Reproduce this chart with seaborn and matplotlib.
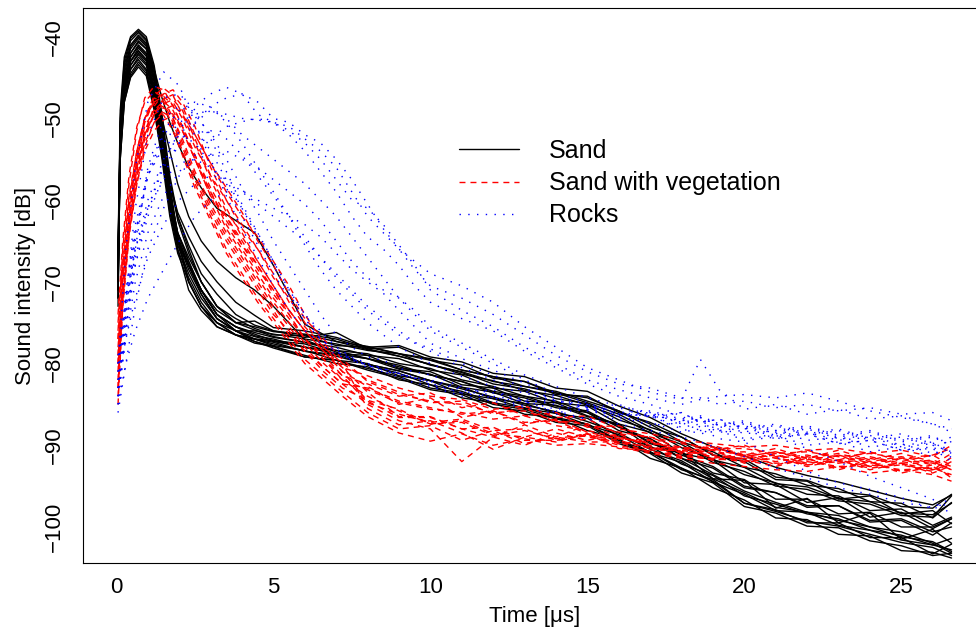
import matplotlib
matplotlib.use("Agg")
import matplotlib.pyplot as plt
from matplotlib.lines import Line2D
import pandas as pd
import seaborn as sns

# ---------------- data ----------------
CLASSES = ["Sand", "Sand with vegetation", "Rocks"]
COLORS = ["black", "red", "blue"]

# Sand: knot times and per-curve values
SAND_T_HEAD = [0.05, 0.12, 0.25, 0.45, 0.7, 0.95, 1.2, 1.45, 1.7, 1.95, 2.3, 2.7, 3.2, 3.8]
SAND_T_TAIL = [4.4, 5, 6, 7, 8, 9, 10, 11, 12, 13, 14, 15, 16, 17, 18, 19, 20, 21, 22, 23, 24, 25, 26, 26.6]
SAND_HEAD = [
    [-66, -49, -42.5, -40, -39.1, -40, -43.5, -49.5, -57, -62, -66, -70, -73, -74.5],
    [-70, -50, -43, -40.2, -39.3, -40.3, -44, -50.5, -58, -64.5, -70, -73, -75, -76],
    [-68, -50.5, -43.5, -40.5, -39.5, -40.5, -44, -50, -57.5, -62.5, -66.5, -70, -73, -75],
    [-72, -51, -44, -41, -39.8, -40.8, -44.5, -51, -58.5, -65, -70, -73, -75, -76.5],
    [-67, -51, -44, -41.2, -40, -41, -45, -51.5, -59, -64, -67.5, -71, -74, -75.5],
    [-69, -51.5, -44.5, -41.5, -40.2, -41.2, -45, -51, -58, -62, -65.5, -69, -71.5, -74],
    [-71, -52, -45, -42, -40.5, -41.5, -45.5, -52, -59.5, -66, -71, -73.5, -75.5, -76.5],
    [-66, -52, -45, -42, -40.7, -41.5, -44, -47.5, -50.5, -53, -56, -58.5, -61, -62.5],
    [-70, -52.5, -45.5, -42.5, -41, -42, -45.5, -50, -54, -58, -62, -65, -67.5, -69.5],
    [-68, -52.5, -45.5, -42.5, -41.2, -42.2, -46, -52, -59, -64, -67.5, -71, -74, -76],
    [-73, -53, -46, -43, -41.4, -42.4, -46.5, -52.5, -60, -64.5, -68, -71.5, -74.5, -76],
    [-67, -53, -46, -43, -41.7, -42.8, -46.5, -52, -58, -61.5, -64.5, -67.5, -70, -72.5],
    [-70, -53.5, -46.5, -43.5, -42, -43, -47, -53, -60.5, -65, -68.5, -71.5, -74.5, -76],
    [-69, -53.5, -46.5, -43.5, -42.2, -43.3, -47, -53, -60, -64, -67, -70, -73, -75],
    [-72, -54, -47, -44, -42.5, -43.5, -47.5, -53.5, -61, -65.5, -69, -72, -74.5, -76],
    [-68, -54, -47, -44, -42.8, -44, -48, -54, -61, -65, -68, -71, -74, -75.5],
    [-71, -54.5, -47.5, -44.5, -43.1, -44.2, -48, -54, -61.5, -66, -69.5, -72.5, -75, -76.5],
    [-67, -55, -48, -44.8, -43.4, -44.5, -48.5, -54.5, -61, -65, -68, -71, -73.5, -75],
    [-70, -55, -48, -45, -43.7, -44.8, -49, -55, -62, -66.5, -70, -73, -75.5, -76.5],
    [-69, -53, -46, -43, -41.8, -42.8, -46.5, -52.5, -60, -64.5, -68, -71, -74, -75.5],
]
SAND_TAIL = [
    [-75.7, -76.5, -76.6, -77.8, -78, -78.8, -79.4, -80.8, -81.6, -82.2, -83.6, -84.2, -85.8, -87.4, -89.6, -90.8, -92.7, -93.5, -94.9, -95.3, -96.9, -97.1, -98.9, -97],
    [-77, -77.8, -78.4, -79.6, -80, -81.5, -82.1, -83.7, -84.3, -85.5, -86.1, -87.5, -88.7, -90.9, -92.1, -94.5, -96, -98, -98.2, -99.8, -100.4, -101.6, -102.2, -102.8],
    [-75.5, -76.1, -76.4, -77, -78.2, -78, -79.6, -80.2, -81.8, -82.2, -83.8, -84, -86, -87.2, -89, -91.2, -91.7, -93.9, -94.3, -95.7, -96.1, -97.5, -97.7, -96],
    [-77.3, -78.1, -79.2, -79.6, -80.8, -81.8, -83.2, -83.8, -85.4, -85.8, -87.2, -87.6, -89.8, -91, -93.4, -94.6, -97.5, -98.3, -99.9, -100.1, -101.7, -102.3, -103.5, -103.2],
    [-76.4, -77.2, -77.6, -78.8, -79, -80.6, -81, -82.6, -83, -84.6, -84.8, -86.4, -87.4, -89.8, -90.8, -93.4, -94.2, -96.6, -96.6, -98.4, -98.2, -100, -100, -99],
    [-75.3, -76, -76.8, -76.2, -78.2, -79.1, -80.1, -81.1, -82.5, -83.1, -84.3, -84.9, -86.9, -88.1, -90.3, -91.7, -93.6, -94.6, -96, -96.2, -98, -97.8, -99.8, -98.8],
    [-77, -77.4, -78.5, -78.9, -80.1, -80.9, -82.1, -82.9, -84.3, -84.9, -86.1, -86.7, -88.9, -90.1, -92.3, -93.7, -96.2, -97.2, -98.4, -99, -100.4, -101, -102.2, -101.4],
    [-64, -68, -75.2, -77.3, -78.3, -79.1, -80.1, -81.3, -82.1, -83.3, -83.9, -85.1, -86.5, -88.5, -89.9, -92.1, -93.2, -95, -95.4, -96.8, -97.2, -98.6, -98.8, -96.2],
    [-71, -73, -77.1, -78.6, -80.2, -81.2, -82.6, -83.4, -84.8, -85.4, -86.6, -87.4, -89.4, -90.8, -92.8, -94.4, -97.1, -98.1, -99.3, -99.9, -100.9, -101.9, -102.5, -103.5],
    [-76, -76.4, -77, -77.6, -78.4, -78.8, -80.2, -81, -82.2, -82.8, -83.6, -84.8, -86.2, -88.2, -89.6, -91.8, -92.7, -94.7, -95.1, -96.5, -96.9, -98.3, -98.5, -97.1],
    [-77.3, -77.9, -79, -80, -80.4, -82, -82.6, -84.2, -84.8, -86.2, -86.6, -88.2, -89.2, -91.6, -92.8, -95.2, -96.7, -98.9, -99.1, -100.9, -101.1, -102.9, -103.1, -103.8],
    [-74.1, -75.6, -76, -76.8, -78, -77.8, -79.2, -79.8, -81.2, -81.6, -83, -83.4, -85.2, -86.6, -88.6, -90.2, -91.3, -92.7, -93.7, -94.5, -95.5, -96.5, -97.3, -96.1],
    [-76.7, -77.3, -78, -78.8, -79.4, -80.7, -81.3, -82.9, -83.5, -84.9, -85.1, -86.5, -87.5, -90.3, -90.9, -94.1, -94.3, -97.7, -96.5, -99.5, -98.3, -101.5, -100.3, -102],
    [-75.9, -76.7, -77.4, -78, -79, -79.4, -80.8, -81.4, -83, -83.4, -84.8, -85.2, -87.4, -88.4, -91, -91.8, -94.6, -94.8, -97, -96.4, -98.8, -98.2, -100.2, -99],
    [-77, -77.6, -78.5, -79.1, -80.1, -80.9, -82.1, -83.1, -84.1, -85.1, -85.9, -87.1, -88.5, -90.5, -91.9, -94.1, -95.8, -97.6, -98.2, -99.2, -100, -101.2, -101.8, -103],
    [-76.2, -76.8, -77.4, -78.4, -78.8, -80, -80.6, -82, -82.8, -84, -84.6, -86, -87.6, -89.6, -91.6, -93.6, -95.6, -97, -98.2, -98.6, -100, -100.6, -102, -103.2],
    [-77, -77.2, -78, -78.8, -79.4, -80.4, -81.4, -82.2, -83.6, -84.2, -85.4, -86, -88.2, -89.2, -91.6, -92.8, -95.2, -95.8, -97.6, -97.4, -99.4, -99.2, -101, -99.5],
    [-74.8, -76, -76.5, -77.3, -77.9, -78.8, -79.6, -80.8, -81.6, -82.8, -83.4, -84.6, -85.8, -87.8, -89, -91.2, -92, -94.2, -94.4, -96.6, -96.2, -98.4, -98, -99.6],
    [-77.5, -77.9, -79.2, -79.6, -80.6, -81.6, -83, -83.6, -85, -85.6, -86.8, -87.4, -89.6, -90.8, -93, -94.2, -97.1, -97.9, -99.5, -99.5, -101.3, -101.3, -103.3, -102.1],
    [-76.6, -77, -78, -78.4, -79.4, -80.2, -81.4, -82.2, -83.4, -84, -85.2, -85.8, -87.8, -89.2, -91.2, -92.6, -95, -95.8, -97.4, -97.4, -99.2, -99, -100.6, -100],
]

# Sand with vegetation
VEG_T_HEAD = [0.05, 0.2, 0.4, 0.65, 0.9, 1.2, 1.5, 1.8, 2.1, 2.5, 3.0, 3.5, 4.0, 4.5, 5.0, 5.5, 6.0, 6.6, 7.2]
VEG_T_TAIL = [8, 9, 10, 11, 12, 13, 14, 15, 16, 17, 18, 19, 20, 21, 22, 23, 24, 25, 26, 26.6]
VEG_HEAD = [
    [-76, -66, -58, -51.5, -47.5, -46.1, -46.5, -48.5, -51, -55, -59.5, -62, -65.5, -68, -71.5, -74, -77, -79, -81.5],
    [-80, -69, -61, -54, -50, -47.2, -46.3, -47.2, -49.5, -53, -57.5, -61.5, -64, -67.5, -70.5, -73.5, -76, -78.5, -80.5],
    [-83, -72, -63, -56, -52, -48.5, -47, -46.5, -48, -51, -56, -60, -63, -66, -69, -72.5, -75.5, -78, -80],
    [-74, -65, -57, -51, -48, -46.7, -47.5, -50, -53, -57, -61, -64.5, -67.5, -70.5, -73.5, -76.5, -78.5, -80.5, -82.5],
    [-79, -70, -62, -55, -50.5, -47.8, -46.9, -48, -50, -53.5, -57, -60, -63.5, -66, -69.5, -72, -75, -78, -80.5],
    [-85, -73, -64, -57, -52.5, -49.5, -47.6, -47.1, -48.5, -52, -55.5, -59, -62, -64.5, -67.5, -70.5, -74, -77.5, -80],
    [-77, -68, -60, -54, -50, -48, -47.3, -48.4, -51, -54.5, -59, -63, -66, -69, -72, -74.5, -77, -79.5, -82],
    [-81, -69, -61, -54.5, -50, -47.5, -48, -50.5, -53.5, -57.5, -61.5, -65, -68, -71, -74, -76, -78.5, -81, -83],
    [-78, -70, -63, -56.5, -52, -49.5, -48.2, -47.7, -49, -52.5, -57, -61, -64.5, -67.5, -70.5, -73.5, -76, -78.5, -81],
    [-83, -71, -62, -55.5, -51.5, -49, -47.9, -49, -51.5, -55, -59.5, -63.5, -66.5, -69.5, -72.5, -75, -77.5, -80, -82],
    [-75, -67, -59.5, -54, -50, -48.1, -48.6, -50.8, -54, -58, -62, -66, -69, -72, -74.5, -77, -79.5, -81.5, -83.5],
    [-84, -73, -64.5, -58, -53.5, -50.5, -49, -48.4, -49.5, -52, -55.5, -58.5, -61.5, -65, -68, -71.5, -74.5, -77, -79.5],
    [-80, -70, -62.5, -56, -52, -49.5, -48.7, -49.5, -51.5, -55, -59, -62.5, -65.5, -68.5, -71, -73.5, -76, -78.5, -81],
    [-77, -68, -61, -55, -51, -49, -49.6, -51.5, -54.5, -58.5, -62.5, -66.5, -69.5, -72.5, -75, -77.5, -80, -82, -84],
    [-82, -72, -64, -57.5, -53, -50.5, -49.3, -50, -52.5, -56.5, -60.5, -64, -67, -70, -73, -75.5, -78, -80.5, -82.5],
    [-79, -71, -64, -58, -54, -51.5, -50.2, -49.7, -51, -54.5, -58.5, -62, -65, -68, -71, -74, -77, -79.5, -81.5],
]
VEG_TAIL = [
    [-82.5, -84, -83.6, -85.4, -84.8, -86.4, -86, -87.8, -87.6, -89.4, -89.6, -90.6, -90, -91.4, -90.6, -91.8, -90.8, -92, -91.2, -92.5],
    [-83.5, -86.5, -86.5, -88, -89, -87.5, -89, -87.5, -89, -90, -91.5, -90.5, -92, -91, -92.4, -91.2, -92.6, -91.6, -93, -91.5],
    [-82, -83.5, -84.8, -84.6, -86.2, -85.4, -87.2, -86.8, -88.6, -89, -90.4, -90, -91.2, -90.4, -91.6, -90.6, -91.8, -91, -92, -93],
    [-85, -87, -88, -92, -89, -90, -88.5, -89.4, -88.6, -90.4, -90.2, -91.6, -91, -92.4, -91.6, -92.8, -92, -93.2, -92.4, -94],
    [-81.5, -83, -84, -84.4, -85.6, -85.2, -86.6, -86.4, -88, -88.6, -89.4, -89.8, -90.2, -90, -90.6, -90.4, -91, -90.6, -91.4, -90],
    [-85.5, -87.5, -87, -88.5, -90.5, -89, -89.6, -88.6, -89.8, -89.4, -91, -90.6, -92.2, -91.4, -92.6, -91.8, -93, -92.2, -93.4, -92.5],
    [-83.2, -84.8, -85.6, -86, -86.8, -86.4, -87.6, -88.2, -89, -89.8, -90.2, -91, -90.8, -91.6, -91.2, -92, -91.4, -92.2, -91.8, -92.6],
    [-84.5, -85.6, -87.4, -87, -88.6, -89, -88, -89, -89.6, -90.8, -91.2, -91.8, -91.6, -92.2, -92, -92.6, -92.4, -93, -92.8, -93.6],
    [-82.8, -85, -84.2, -86.6, -85.8, -87.4, -86.8, -88.4, -89.2, -89.4, -90.8, -90.2, -91.4, -90.8, -91.8, -91.2, -92.2, -91.6, -92.4, -91],
    [-84, -85.8, -87.4, -87.2, -88.8, -88.2, -89.2, -88.6, -90.4, -90.6, -90.6, -91.4, -91.6, -91.2, -92.2, -91.8, -92.6, -92.2, -93, -92.4],
    [-86, -88, -87.6, -89.4, -88.2, -89.8, -89, -89.6, -89.6, -90.2, -90.8, -91.2, -91.8, -92.6, -91.6, -93, -92, -93.4, -92.6, -93.8],
    [-82.2, -83.8, -84.6, -85, -86, -85.8, -87, -87.4, -88.4, -89, -89.8, -90.4, -90.4, -91, -90.8, -91.4, -91, -91.6, -91.2, -90.4],
    [-84.6, -86.6, -86.6, -88, -87.8, -89.4, -89.4, -88.8, -89.4, -90.4, -90.8, -91.8, -91.2, -92, -91.4, -92.2, -91.6, -92.4, -92, -93],
    [-86.5, -88.5, -89.5, -88.6, -90, -89.2, -90, -89.8, -90.2, -91, -91.6, -92.2, -92.6, -93, -93.2, -92.6, -93.4, -93, -93.6, -94.4],
    [-83, -84.6, -85.4, -86.2, -85.8, -87.2, -87, -88.6, -89.2, -89.6, -90.6, -90.4, -91.4, -90.8, -91.6, -91, -92, -91.4, -92.2, -92.8],
    [-84.8, -86.2, -87.2, -86.8, -88.2, -88, -89.4, -88.8, -90, -90.8, -91.4, -91.6, -92, -91.6, -92.4, -92, -92.8, -92.4, -93.2, -92],
]

# Rocks
ROCK_T = [0.05, 0.3, 0.6, 1.0, 1.5, 2.0, 2.5, 3.0, 3.5, 4.0, 4.5, 5.0, 5.5, 6.0, 6.5, 7.0, 7.5, 8.0, 8.5, 9.0,
          9.5, 10, 11, 12, 13, 14, 15, 16, 17, 18, 18.6, 19.2, 20, 21, 22, 23, 24, 25, 26, 26.6]
ROCK_DB = [
    [-80, -66, -56, -48, -44.3, -46, -50.5, -55, -59.5, -63.5, -67, -70.5, -73.5, -76, -77.5, -79, -79.5, -80.5, -81, -81.2, -81.8, -82, -83, -83.6, -84.4, -85, -85.8, -86.2, -86.4, -87, -86.6, -87.6, -87.2, -88.4, -87.8, -89, -88.4, -89.6, -89, -90],
    [-83, -72, -61, -52, -47.5, -47, -49, -52.5, -56.5, -60.5, -64, -67.5, -71, -74, -76, -78, -79.2, -80, -80.6, -81.4, -81.6, -82.4, -83.6, -83.2, -84.8, -84.4, -85.6, -85.4, -86.6, -86, -87.2, -86.8, -88, -87.4, -88.6, -88, -89.2, -88.6, -89.8, -89],
    [-85, -76, -66, -56, -50, -48.5, -49.5, -52, -55, -58.5, -61.5, -65, -68, -71, -74, -76.5, -78, -79.2, -79.6, -80.6, -81, -81.4, -82.8, -84, -84.6, -86, -85.6, -87, -86.4, -87.8, -87.4, -88.4, -88.2, -89.2, -88.6, -89.8, -89.4, -90.6, -90.2, -91.5],
    [-82, -74, -65, -57, -52, -50, -51, -54, -57.5, -61, -64.5, -68, -71.5, -74.5, -77, -78.5, -79.6, -80.2, -81, -81.6, -82.4, -82.8, -84, -84.6, -85.4, -86.2, -86.8, -87.4, -88.2, -89, -89.6, -90.4, -91.4, -92.8, -94, -95.2, -96, -97, -97.6, -96.5],
    [-84, -74, -67, -61, -55.5, -51.5, -48.5, -47, -46.2, -47, -49.5, -50.5, -51, -52.5, -54, -56, -59, -62, -64, -66, -68.5, -70.5, -72, -74, -76.5, -79, -81, -82.5, -83, -84.2, -84.2, -85, -84.6, -85.4, -85, -85.8, -85.4, -86.2, -86, -87],
    [-80, -73, -66, -60, -55, -52, -50, -48.5, -47.5, -47, -48, -50, -50.5, -52, -53, -55, -57.5, -60.5, -63.5, -66, -67.5, -69, -70.5, -72.5, -75.5, -78, -80.5, -82, -83.5, -84.4, -79.5, -83.2, -85.6, -85, -86.2, -85.6, -86.8, -86.4, -87.4, -88],
    [-83, -75, -68, -62, -57, -53, -50.5, -49, -49.5, -50, -50.2, -50.5, -52, -54, -56.5, -59, -62, -64.5, -66, -68, -70.5, -72.5, -74.5, -76, -78.5, -80.5, -82.5, -84, -85, -86.4, -87.8, -87.4, -88.6, -88.2, -89.4, -89, -90.2, -89.8, -91, -90.4],
    [-86, -80, -73, -66, -61, -57, -54.5, -52.5, -51, -50.4, -50, -50.5, -51.5, -53, -55, -57.5, -60, -61, -63, -65.5, -68, -71, -73.5, -75.5, -78, -80, -82, -83.2, -84.2, -85, -84.4, -84, -83.8, -84.2, -83.6, -84.6, -85.8, -86.6, -87.4, -88.4],
    [-81, -72, -64, -57, -53, -50.5, -49.5, -49, -50, -52, -53.5, -55, -56.5, -58, -60, -62, -64.5, -67, -69.5, -72, -74, -76, -78, -80, -82, -83.6, -84.8, -86.2, -86.4, -88, -88.6, -88.2, -89.4, -89, -90.4, -92, -93.8, -95.2, -96.6, -98.5],
    [-84, -77, -70, -64, -59.5, -56.5, -55, -54.4, -54, -55, -56, -57.5, -59, -60.5, -62.5, -65, -67.5, -69.5, -71, -72, -73.5, -75.5, -77.5, -79.5, -81.4, -82.8, -84.2, -85.2, -86, -87, -86.6, -87.6, -87.4, -88.6, -88, -89.2, -88.8, -90, -89.6, -91],
    [-85, -80, -76, -72, -68.5, -65, -62, -60, -59, -58.8, -60, -61, -62, -63, -64.5, -66.5, -68.5, -70, -71.4, -73.5, -75.5, -77.5, -79.4, -80.8, -82.4, -84, -85, -86.2, -86, -87.4, -87, -88.2, -87.8, -89, -88.6, -89.8, -89.4, -90.6, -90.4, -92],
    [-82, -77, -72, -67, -63, -60, -58, -57, -57.4, -59, -60.5, -62, -63.5, -65, -67, -69, -71, -73, -74.5, -76, -77.4, -78.2, -80, -81.4, -83, -84.6, -85.4, -86.6, -87.2, -88.4, -88, -89.2, -89.6, -91.4, -93.2, -94.6, -95.4, -96.4, -97.8, -97],
    [-83, -73, -64, -57, -53.5, -52, -53, -55.5, -58.5, -62, -65.5, -69, -72, -75, -77, -78.6, -79.4, -80.2, -80.8, -81.2, -81.8, -82.2, -83.2, -84.2, -84.6, -85.6, -85.2, -86.4, -86.2, -87.2, -86.8, -87.8, -87.6, -88.8, -88.4, -89.4, -89, -90.2, -89.8, -91],
    [-79, -72, -66, -61, -57.5, -55.5, -55, -56, -58, -61, -64, -67.5, -71, -74, -76.5, -78.2, -79.4, -80.2, -80.6, -81.2, -81.8, -82.6, -83.6, -84.2, -85.2, -85.8, -86.8, -86.4, -87.6, -87.2, -88.2, -88, -89.2, -88.8, -90, -89.6, -90.8, -90.2, -91.4, -89.5],
    [-84, -76, -68, -61, -56, -53, -51.8, -51.5, -52.5, -54.5, -57, -59.5, -62, -64.5, -67, -69.5, -71.5, -73.5, -75, -76.5, -77.5, -78.5, -80.5, -82, -83.4, -84.2, -85.4, -85, -86.4, -86, -87.2, -86.8, -88, -87.6, -88.8, -88.2, -89.4, -89, -90, -90.8],
    [-81, -71, -63, -56.5, -51.5, -49, -48, -48.6, -50.5, -53, -56, -59, -62, -65.5, -68.5, -71, -73, -75, -76.5, -78, -79, -80, -81.6, -82.8, -83.6, -84.6, -85, -86, -85.8, -86.8, -86.4, -87.4, -87, -88.2, -87.6, -88.8, -88.2, -89.4, -88.8, -90.2],
]

X_TICKS = [0, 5, 10, 15, 20, 25]
Y_TICKS = [-100, -90, -80, -70, -60, -50, -40]
X_LABEL = "Time [\u03bcs]"
Y_LABEL = "Sound intensity [dB]"

# ---------------- long table ----------------
rows = []
sand_t = SAND_T_HEAD + SAND_T_TAIL
for i, (h, tl) in enumerate(zip(SAND_HEAD, SAND_TAIL)):
    vals = h + tl
    assert len(vals) == len(sand_t), ("sand", i, len(vals))
    rows += [(CLASSES[0], f"s{i}", t, v) for t, v in zip(sand_t, vals)]
veg_t = VEG_T_HEAD + VEG_T_TAIL
for i, (h, tl) in enumerate(zip(VEG_HEAD, VEG_TAIL)):
    vals = h + tl
    assert len(vals) == len(veg_t), ("veg", i, len(vals))
    rows += [(CLASSES[1], f"v{i}", t, v) for t, v in zip(veg_t, vals)]
for i, vals in enumerate(ROCK_DB):
    assert len(vals) == len(ROCK_T), ("rock", i, len(vals))
    rows += [(CLASSES[2], f"r{i}", t, v) for t, v in zip(ROCK_T, vals)]
df = pd.DataFrame(rows, columns=["cls", "curve", "t", "db"])

# ---------------- plot ----------------
sns.set_theme(style="white")
plt.rcParams["font.family"] = ["Liberation Sans", "DejaVu Sans"]
plt.rcParams["text.color"] = "black"
plt.rcParams["axes.labelcolor"] = "black"

DASHES = {CLASSES[0]: "", CLASSES[1]: (4.3, 3.6), CLASSES[2]: (1.0, 5.3)}
PAL = dict(zip(CLASSES, COLORS))

fig = plt.figure(figsize=(9.76, 6.30), dpi=100)
ax = fig.add_axes([83 / 976, 67 / 630, 904 / 976, 555 / 630])

sns.lineplot(data=df, x="t", y="db", hue="cls", style="cls", units="curve",
             estimator=None, hue_order=CLASSES, style_order=CLASSES,
             palette=PAL, dashes=DASHES, lw=1.0, legend=False, sort=False, ax=ax)

ax.set_xlim(-1.066, 27.73)
ax.set_ylim(-104.41, -36.49)
ax.set_xticks(X_TICKS)
ax.set_yticks(Y_TICKS)
ax.set_xticklabels([str(v) for v in X_TICKS])
ax.set_yticklabels([f"\u2212{abs(v)}" for v in Y_TICKS], rotation=90, va="center")
ax.tick_params(axis="both", direction="out", length=5, width=0.8, colors="black",
               labelsize=16, pad=5)
ax.tick_params(axis="y", pad=8)
for s in ax.spines.values():
    s.set_visible(True)
    s.set_color("black")
    s.set_linewidth(0.8)
ax.set_xlabel(X_LABEL, fontsize=16, labelpad=6, color="black")
ax.set_ylabel(Y_LABEL, fontsize=16, labelpad=6, color="black")
ax.grid(False)

handles = [Line2D([], [], color=c, lw=1.0,
                  linestyle=("-" if DASHES[k] == "" else (0, DASHES[k])))
           for k, c in zip(CLASSES, COLORS)]
leg = fig.legend(handles, CLASSES, loc="upper left", bbox_to_anchor=(459 / 976, 1 - 139 / 630),
                 frameon=False, fontsize=18, handlelength=2.4, handletextpad=1.2,
                 labelspacing=0.33, borderpad=0, borderaxespad=0)
for txt in leg.get_texts():
    txt.set_color("black")

fig.savefig("out.png", dpi=100)
